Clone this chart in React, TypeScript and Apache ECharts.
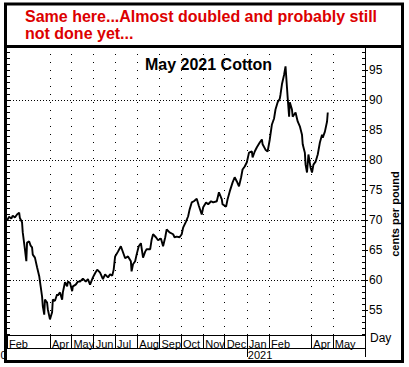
import React, { useEffect, useRef } from 'react';
import * as echarts from 'echarts';

const dates = [
  '2020-02-01','2020-02-04','2020-02-07','2020-02-09','2020-02-12','2020-02-15','2020-02-18','2020-02-19',
  '2020-02-22','2020-02-23','2020-02-26','2020-02-28','2020-02-29','2020-03-03','2020-03-05','2020-03-07',
  '2020-03-08','2020-03-11','2020-03-14','2020-03-17','2020-03-19','2020-03-21','2020-03-22','2020-03-24',
  '2020-03-25','2020-03-28','2020-03-29','2020-04-01','2020-04-02','2020-04-04','2020-04-05','2020-04-08',
  '2020-04-11','2020-04-12','2020-04-15','2020-04-18','2020-04-19','2020-04-22','2020-04-25','2020-04-26',
  '2020-04-29','2020-05-02','2020-05-03','2020-05-07','2020-05-10','2020-05-13','2020-05-17','2020-05-21',
  '2020-05-24','2020-05-27','2020-05-31','2020-06-03','2020-06-06','2020-06-10','2020-06-14','2020-06-17',
  '2020-06-21','2020-06-24','2020-06-27','2020-06-29','2020-07-01','2020-07-05','2020-07-09','2020-07-12',
  '2020-07-15','2020-07-19','2020-07-23','2020-07-24','2020-07-26','2020-07-29','2020-07-31','2020-08-03',
  '2020-08-06','2020-08-09','2020-08-12','2020-08-14','2020-08-19','2020-08-21','2020-08-23','2020-08-27',
  '2020-08-30','2020-09-03','2020-09-06','2020-09-09','2020-09-11','2020-09-15','2020-09-20','2020-09-22',
  '2020-09-25','2020-09-29','2020-10-02','2020-10-04','2020-10-08','2020-10-11','2020-10-13','2020-10-16',
  '2020-10-19','2020-10-23','2020-10-26','2020-10-30','2020-11-01','2020-11-05','2020-11-08','2020-11-12',
  '2020-11-15','2020-11-20','2020-11-23','2020-11-27','2020-11-28','2020-12-03','2020-12-05','2020-12-08',
  '2020-12-12','2020-12-15','2020-12-18','2020-12-21','2020-12-24','2020-12-26','2020-12-29','2021-01-01',
  '2021-01-04','2021-01-08','2021-01-09','2021-01-12','2021-01-15','2021-01-19','2021-01-22','2021-01-23',
  '2021-01-27','2021-01-30','2021-02-02','2021-02-05','2021-02-08','2021-02-10','2021-02-13','2021-02-16',
  '2021-02-17','2021-02-19','2021-02-22','2021-02-24','2021-02-26','2021-02-27','2021-03-01','2021-03-02',
  '2021-03-05','2021-03-06','2021-03-10','2021-03-13','2021-03-16','2021-03-19','2021-03-20','2021-03-23',
  '2021-03-24','2021-03-26','2021-03-28','2021-03-31','2021-04-02','2021-04-04','2021-04-07','2021-04-10',
  '2021-04-13','2021-04-16','2021-04-17','2021-04-20','2021-04-23','2021-04-24'
];

const prices = [
  70.0, 70.6, 70.3, 70.8, 70.5, 71.0, 71.3, 70.4,
  69.7, 68.0, 65.2, 63.2, 66.3, 66.5, 65.8, 65.5,
  64.3, 63.8, 62.2, 60.7, 59.0, 57.3, 55.7, 54.3,
  56.8, 56.3, 55.2, 53.5, 53.9, 54.7, 56.8, 56.6,
  57.7, 57.5, 58.0, 56.8, 58.0, 59.7, 59.0, 59.8,
  59.6, 58.2, 59.0, 59.3, 59.8, 59.8, 60.3, 59.8,
  60.2, 59.3, 60.5, 61.2, 61.8, 61.3, 60.2, 61.0,
  60.5, 61.0, 60.8, 61.8, 64.0, 64.8, 65.7, 64.7,
  63.7, 64.0, 63.2, 61.5, 62.7, 63.2, 64.3, 65.7,
  66.2, 63.8, 64.8, 65.2, 65.2, 66.8, 67.7, 67.2,
  66.7, 67.0, 65.7, 67.2, 68.5, 68.0, 67.7, 67.2,
  67.3, 67.2, 67.7, 68.8, 69.8, 70.7, 71.8, 73.0,
  73.2, 73.6, 72.4, 71.0, 72.2, 73.0, 72.7, 73.2,
  73.0, 73.2, 74.7, 73.5, 72.7, 72.3, 73.5, 74.8,
  76.3, 77.2, 76.5, 75.7, 77.2, 78.5, 79.0, 79.7,
  81.3, 81.5, 80.5, 81.5, 82.2, 83.0, 83.5, 82.7,
  81.8, 81.5, 83.5, 86.0, 87.0, 88.5, 89.7, 90.3,
  91.0, 92.7, 94.3, 95.7, 92.2, 90.5, 87.3, 89.7,
  88.5, 87.3, 88.0, 86.5, 85.7, 84.3, 82.7, 81.3,
  79.3, 78.0, 81.0, 78.8, 78.0, 79.3, 79.8, 81.0,
  83.0, 84.3, 83.8, 84.8, 86.5, 88.0
];

const monthTicks = [
  '2020-02-01', '2020-04-01', '2020-05-01', '2020-06-01', '2020-07-01', '2020-08-01',
  '2020-09-01', '2020-10-01', '2020-11-01', '2020-12-01', '2021-01-01', '2021-02-01',
  '2021-04-01', '2021-05-01'
];
const monthNames = ['Jan', 'Feb', 'Mar', 'Apr', 'May', 'Jun', 'Jul', 'Aug', 'Sep', 'Oct', 'Nov', 'Dec'];
const yearTicks = ['2021-01-01'];
const yLabels = [55, 60, 65, 70, 75, 80, 85, 90, 95];
const yGrid = [60, 70, 80, 90];
const xMin = '2020-02-01';
const xMax = '2021-06-15';
const yMin = 50.9;
const yMax = 98.75;

const FONT = 'Liberation Sans, Arial, sans-serif';

const ts = (s: string) => {
  const [y, m, d] = s.split('-').map(Number);
  return new Date(y, m - 1, d).getTime();
};

export default function App() {
  const ref = useRef<HTMLDivElement>(null);
  useEffect(() => {
    if (!ref.current) return;
    const chart = echarts.init(ref.current, null, { renderer: 'svg' });
    const minorVals: number[] = [];
    for (let v = 51; v <= 98; v++) minorVals.push(v);
    const data = dates.map((d, i) => [ts(d), prices[i]]);
    const xLo = ts(xMin);
    const xHi = ts(xMax);
    const monthTs = monthTicks.map(ts);
    const yearTs = yearTicks.map(ts);
    const yBase = { type: 'value', min: yMin, max: yMax, gridIndex: 0 };
    const gridLines = [
      ...monthTs.slice(1).map((v) => ({ xAxis: v, lineStyle: { color: '#000', type: [1, 7], width: 1 } })),
      ...yGrid.map((v) => ({ yAxis: v, lineStyle: { color: '#000', type: [1, 2], width: 1 } })),
    ];
    chart.setOption({
      animation: false,
      backgroundColor: '#fff',
      title: [
        {
          text: 'Same here...Almost doubled and probably still\nnot done yet...',
          left: 25, top: 8, padding: 0,
          textStyle: { color: '#dc0000', fontSize: 16, fontWeight: 'bold', fontFamily: FONT, lineHeight: 17 },
        },
        {
          text: 'May 2021 Cotton',
          left: 145, top: 56, padding: 0,
          textStyle: { color: '#000', fontSize: 16, fontWeight: 'bold', fontFamily: FONT },
        },
      ],
      grid: { left: 7, right: 44, top: 48, bottom: 32, containLabel: false },
      xAxis: [
        {
          type: 'value', min: xLo, max: xHi, position: 'bottom',
          axisLine: { show: true, lineStyle: { color: '#000', width: 1 } },
          axisTick: { show: true, length: 13, inside: false, customValues: [...monthTs, xHi], lineStyle: { color: '#000' } },
          axisLabel: {
            customValues: monthTs, align: 'left', margin: 3, color: '#000', fontSize: 11, fontFamily: FONT,
            padding: [0, 0, 0, 2],
            formatter: (v: number) => monthNames[new Date(v).getMonth()],
          },
          splitLine: { show: false },
          minorTick: { show: false },
        },
        {
          type: 'value', min: xLo, max: xHi, position: 'bottom', offset: 13,
          axisLine: { show: true, lineStyle: { color: '#000', width: 1 } },
          axisTick: { show: true, length: 9, inside: false, customValues: [...yearTs, xHi], lineStyle: { color: '#000' } },
          axisLabel: {
            customValues: yearTs, align: 'left', margin: 1, color: '#000', fontSize: 11, fontFamily: FONT,
            padding: [0, 0, 0, 1],
            formatter: (v: number) => String(new Date(v).getFullYear()),
          },
          splitLine: { show: false },
        },
      ],
      yAxis: [
        {
          ...yBase, position: 'right',
          axisLine: { show: true, lineStyle: { color: '#000', width: 1 } },
          axisTick: { show: true, length: 3, inside: false, customValues: yLabels, lineStyle: { color: '#000' } },
          axisLabel: { customValues: yLabels, margin: 4, color: '#000', fontSize: 12, fontFamily: FONT },
          splitLine: { show: false },
        },
        {
          ...yBase, position: 'right',
          axisLine: { show: false },
          axisTick: { show: true, length: 3, inside: true, customValues: minorVals, lineStyle: { color: '#000' } },
          axisLabel: { show: false },
          splitLine: { show: false },
        },
        {
          ...yBase, position: 'left',
          axisLine: { show: false },
          axisTick: { show: true, length: 3, inside: true, customValues: minorVals, lineStyle: { color: '#000' } },
          axisLabel: { show: false },
          splitLine: { show: false },
        },
      ],
      series: [
        {
          type: 'line', xAxisIndex: 0, yAxisIndex: 0, data,
          showSymbol: false, symbol: 'none',
          lineStyle: { color: '#000', width: 1.9 },
          z: 5,
          markLine: {
            silent: true,
            symbol: ['none', 'none'],
            label: { show: false },
            z: 1,
            data: gridLines,
          },
        },
      ],
      graphic: [
        {
          type: 'rect', silent: true, z: 100,
          shape: { x: 5.5, y: 4, width: 397, height: 357.5 },
          style: { fill: 'none', stroke: '#000', lineWidth: 3 },
        },
        {
          type: 'line', silent: true, z: 100,
          shape: { x1: 4, y1: 46.5, x2: 404, y2: 46.5 },
          style: { stroke: '#000', lineWidth: 3 },
        },
        {
          type: 'text', silent: true, z: 100,
          x: 395, y: 214, rotation: Math.PI / 2,
          style: { text: 'cents per pound', fill: '#000', font: `bold 11px ${FONT}`, align: 'center', verticalAlign: 'middle' },
        },
        {
          type: 'text', silent: true, z: 100,
          x: 370, y: 332,
          style: { text: 'Day', fill: '#000', font: `12px ${FONT}`, align: 'left', verticalAlign: 'top' },
        },
        {
          type: 'text', silent: true, z: 100,
          x: 0.5, y: 349,
          style: { text: '0', fill: '#000', font: `11px ${FONT}`, align: 'left', verticalAlign: 'top' },
        },
      ],
    });
    return () => chart.dispose();
  }, []);
  return <div ref={ref} style={{ position: 'fixed', left: 0, top: 0, width: 409, height: 367 }} />;
}
